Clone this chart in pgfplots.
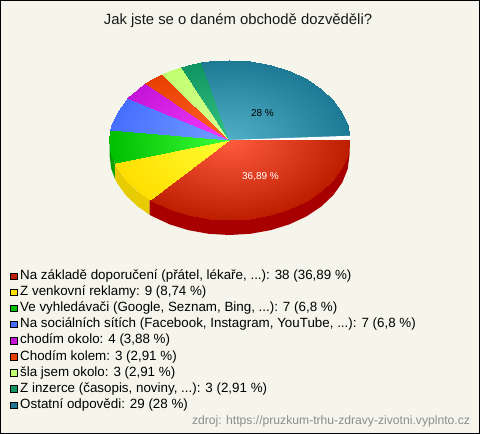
\documentclass[border=0pt]{standalone}
\usepackage{fontspec}
\setmainfont{Liberation Sans}
\usepackage{pgfplots}
\pgfplotsset{compat=1.18}
\definecolor{bgc}{RGB}{245,245,236}
\definecolor{cred}{RGB}{190,30,0}
\definecolor{cyel}{RGB}{255,222,0}
\definecolor{cgrn}{RGB}{0,190,0}
\definecolor{cblu}{RGB}{70,110,255}
\definecolor{cmag}{RGB}{195,20,215}
\definecolor{cora}{RGB}{232,64,0}
\definecolor{clig}{RGB}{192,255,112}
\definecolor{cdgr}{RGB}{16,148,96}
\definecolor{ctea}{RGB}{30,122,148}
\definecolor{wred}{RGB}{168,0,0}
\definecolor{wyel}{RGB}{230,204,0}
\definecolor{wgrn}{RGB}{0,160,0}
\pgfplotsset{
 colormap={mred}{rgb255=(190,30,0) rgb255=(255,92,62)},
 colormap={myel}{rgb255=(255,222,0) rgb255=(255,255,50)},
 colormap={mgrn}{rgb255=(0,190,0) rgb255=(60,255,60)},
 colormap={mblu}{rgb255=(70,110,255) rgb255=(115,160,255)},
 colormap={mmag}{rgb255=(195,20,215) rgb255=(245,60,255)},
 colormap={mora}{rgb255=(232,64,0) rgb255=(255,96,40)},
 colormap={mlig}{rgb255=(192,255,112) rgb255=(216,255,144)},
 colormap={mdgr}{rgb255=(16,148,96) rgb255=(50,195,130)},
 colormap={mtea}{rgb255=(30,122,148) rgb255=(80,176,200)},
 wedge/.style={patch,patch type=triangle,shader=interp,point meta=explicit,forget plot},
 wall/.style={draw=none,no markers,forget plot},
 swatch/.style={legend image code/.code={\draw[black,line width=0.6pt,fill=#1] (0pt,-3.2pt) rectangle (6.4pt,3.2pt);}}
}
\begin{document}
\begin{tikzpicture}
\begin{axis}[
 scale only axis, width=479pt, height=433pt,
 xmin=0.5, xmax=479.5, ymin=0.5, ymax=433.5, y dir=reverse,
 xtick=\empty, ytick=\empty,
 axis line style={line width=1pt,black},
 axis background/.style={fill=bgc},
 point meta min=0, point meta max=1,
 clip=false,
 legend cell align=left,
 legend style={at={(axis cs:10,269.3)},anchor=north west,draw=none,fill=none,
   font=\fontsize{13.37}{15}\selectfont,
   inner xsep=0pt,inner ysep=0pt,
   row sep=2.6pt,
   nodes={inner xsep=3pt,inner ysep=0.5pt,text height=9.5pt,text depth=3pt}},
 legend columns=1,
]
% walls
\addplot[wall,fill=wgrn] coordinates {(109.5,140)(109.5,155)(111.3,168.9)(114.8,178.4)(114.8,163.4)(111.3,153.9)(109.5,140)};
\addplot[wall,fill=wyel] coordinates {(114.8,163.4)(114.8,178.4)(116.7,182.4)(125.6,195)(137.6,206.4)(149.7,214.8)(149.7,199.8)(137.6,191.4)(125.6,180)(116.7,167.4)(114.8,163.4)};
\addplot[wall,fill=wred] coordinates {(349.5,140)(349.5,155)(347.7,168.9)(342.3,182.4)(333.4,195)(321.4,206.4)(306.6,216.3)(289.5,224.3)(270.5,230.2)(250.3,233.8)(229.5,235)(208.7,233.8)(188.5,230.2)(169.5,224.3)(152.4,216.3)(149.7,214.8)(149.7,199.8)(152.4,201.3)(169.5,209.3)(188.5,215.2)(208.7,218.8)(229.5,220)(250.3,218.8)(270.5,215.2)(289.5,209.3)(306.6,201.3)(321.4,191.4)(333.4,180)(342.3,167.4)(347.7,153.9)(349.5,140)};
% red 36.89 %
\addplot[wedge,colormap name=mred] coordinates {
(229.5,140)[1] (349.5,140)[0] (347.7,153.9)[0]
(229.5,140)[1] (347.7,153.9)[0] (342.3,167.4)[0]
(229.5,140)[1] (342.3,167.4)[0] (333.4,180)[0]
(229.5,140)[1] (333.4,180)[0] (321.4,191.4)[0]
(229.5,140)[1] (321.4,191.4)[0] (306.6,201.3)[0]
(229.5,140)[1] (306.6,201.3)[0] (289.5,209.3)[0]
(229.5,140)[1] (289.5,209.3)[0] (270.5,215.2)[0]
(229.5,140)[1] (270.5,215.2)[0] (250.3,218.8)[0]
(229.5,140)[1] (250.3,218.8)[0] (229.5,220)[0]
(229.5,140)[1] (229.5,220)[0] (208.7,218.8)[0]
(229.5,140)[1] (208.7,218.8)[0] (188.5,215.2)[0]
(229.5,140)[1] (188.5,215.2)[0] (169.5,209.3)[0]
(229.5,140)[1] (169.5,209.3)[0] (152.4,201.3)[0]
(229.5,140)[1] (152.4,201.3)[0] (149.7,199.8)[0]
};
% yellow 8.74 %
\addplot[wedge,colormap name=myel] coordinates {
(229.5,140)[1] (149.7,199.8)[0] (137.6,191.4)[0]
(229.5,140)[1] (137.6,191.4)[0] (125.6,180)[0]
(229.5,140)[1] (125.6,180)[0] (116.7,167.4)[0]
(229.5,140)[1] (116.7,167.4)[0] (114.8,163.4)[0]
};
% green 6.8 %
\addplot[wedge,colormap name=mgrn] coordinates {
(229.5,140)[1] (114.8,163.4)[0] (111.3,153.9)[0]
(229.5,140)[1] (111.3,153.9)[0] (109.5,140)[0]
(229.5,140)[1] (109.5,140)[0] (110.4,130)[0]
};
% blue 6.8 %
\addplot[wedge,colormap name=mblu] coordinates {
(229.5,140)[1] (110.4,130)[0] (111.3,126.1)[0]
(229.5,140)[1] (111.3,126.1)[0] (116.7,112.6)[0]
(229.5,140)[1] (116.7,112.6)[0] (125.6,100)[0]
(229.5,140)[1] (125.6,100)[0] (127.1,98.2)[0]
};
% magenta 3.88 %
\addplot[wedge,colormap name=mmag] coordinates {
(229.5,140)[1] (127.1,98.2)[0] (137.6,88.6)[0]
(229.5,140)[1] (137.6,88.6)[0] (145.3,83)[0]
};
% orange 2.91 %
\addplot[wedge,colormap name=mora] coordinates {
(229.5,140)[1] (145.3,83)[0] (152.4,78.7)[0]
(229.5,140)[1] (152.4,78.7)[0] (162,73.8)[0]
};
% light green 2.91 %
\addplot[wedge,colormap name=mlig] coordinates {
(229.5,140)[1] (162,73.8)[0] (169.5,70.7)[0]
(229.5,140)[1] (169.5,70.7)[0] (181,66.8)[0]
};
% dark green 2.91 %
\addplot[wedge,colormap name=mdgr] coordinates {
(229.5,140)[1] (181,66.8)[0] (188.5,64.8)[0]
(229.5,140)[1] (188.5,64.8)[0] (201.5,62.2)[0]
};
% teal 28 %
\addplot[wedge,colormap name=mtea] coordinates {
(229.5,140)[1] (201.5,62.2)[0] (208.7,61.2)[0]
(229.5,140)[1] (208.7,61.2)[0] (229.5,60)[0]
(229.5,140)[1] (229.5,60)[0] (250.3,61.2)[0]
(229.5,140)[1] (250.3,61.2)[0] (270.5,64.8)[0]
(229.5,140)[1] (270.5,64.8)[0] (289.5,70.7)[0]
(229.5,140)[1] (289.5,70.7)[0] (306.6,78.7)[0]
(229.5,140)[1] (306.6,78.7)[0] (321.4,88.6)[0]
(229.5,140)[1] (321.4,88.6)[0] (333.4,100)[0]
(229.5,140)[1] (333.4,100)[0] (342.3,112.6)[0]
(229.5,140)[1] (342.3,112.6)[0] (347.7,126.1)[0]
(229.5,140)[1] (347.7,126.1)[0] (349.3,135.8)[0]
};
% white gap between the last and the first slice
\addplot[wall,fill=white] coordinates {(229.5,140)(349.3,135.8)(350.5,136)(350.5,139.6)(229.5,140)};
\addlegendimage{swatch=cred}
\addlegendentry{Na základě doporučení (přátel, lékaře, ...): 38 (36,89 \%)}
\addlegendimage{swatch=cyel}
\addlegendentry{Z venkovní reklamy: 9 (8,74 \%)}
\addlegendimage{swatch=cgrn}
\addlegendentry{Ve vyhledávači (Google, Seznam, Bing, ...): 7 (6,8 \%)}
\addlegendimage{swatch=cblu}
\addlegendentry{Na sociálních sítích (Facebook, Instagram, YouTube, ...): 7 (6,8 \%)}
\addlegendimage{swatch=cmag}
\addlegendentry{chodím okolo: 4 (3,88 \%)}
\addlegendimage{swatch=cora}
\addlegendentry{Chodím kolem: 3 (2,91 \%)}
\addlegendimage{swatch=clig}
\addlegendentry{šla jsem okolo: 3 (2,91 \%)}
\addlegendimage{swatch=cdgr}
\addlegendentry{Z inzerce (časopis, noviny, ...): 3 (2,91 \%)}
\addlegendimage{swatch=ctea}
\addlegendentry{Ostatní odpovědi: 29 (28 \%)}
\node[font=\fontsize{14.85}{17}\selectfont,text=black!90] at (axis cs:238,20.5) {Jak jste se o daném obchodě dozvěděli?};
\node[font=\fontsize{10}{12}\selectfont,text=white] at (axis cs:260.5,177) {36,89 \%};
\node[font=\fontsize{10}{12}\selectfont,text=black] at (axis cs:262.5,113.5) {28 \%};
\node[font=\fontsize{12.15}{14}\selectfont,text=black!45,anchor=east] at (axis cs:473.5,421.5) {zdroj: https://pruzkum-trhu-zdravy-zivotni.vyplnto.cz};
\end{axis}
\end{tikzpicture}
\end{document}
